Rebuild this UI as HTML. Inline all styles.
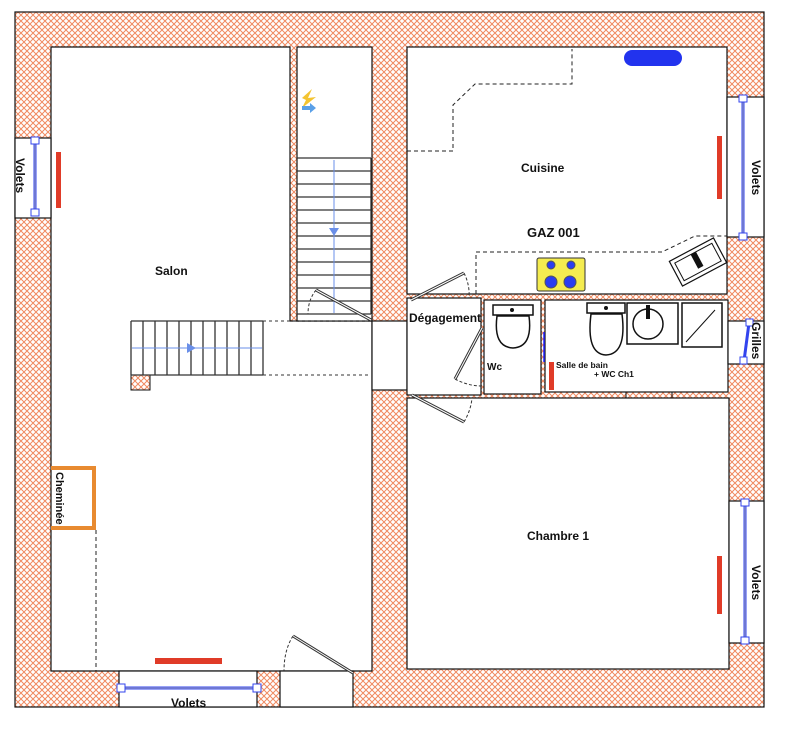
<!DOCTYPE html>
<html><head><meta charset="utf-8"><style>
html,body{margin:0;padding:0;background:#fff;}
svg{display:block;}
text{font-family:"Liberation Sans",sans-serif;font-weight:bold;fill:#111;}
</style></head><body>
<svg width="791" height="736" viewBox="0 0 791 736" xmlns="http://www.w3.org/2000/svg">
<defs>
<pattern id="h" width="6" height="6" patternUnits="userSpaceOnUse">
<rect width="6" height="6" fill="#fff"/>
<path d="M0 0L6 6M6 0L0 6" stroke="#f08a60" stroke-width="1"/>
</pattern>
</defs>
<rect x="15" y="12" width="749" height="695" fill="url(#h)" stroke="#111" stroke-width="1.2"/>
<g fill="#fff" stroke="#111" stroke-width="1.2">
<path d="M51 47H290V321H372V671H51Z"/>
<rect x="297" y="47" width="75" height="274"/>
<rect x="372" y="321" width="35" height="69"/>
<rect x="407" y="47" width="320" height="247"/>
<rect x="407" y="298" width="74" height="97"/>
<rect x="484" y="300" width="57" height="94"/>
<rect x="545" y="300" width="183" height="92"/>
<rect x="407" y="398" width="322" height="271"/>
<rect x="15" y="138" width="36" height="80"/>
<rect x="727" y="97" width="37" height="140"/>
<rect x="728" y="321" width="36" height="43"/>
<rect x="729" y="501" width="35" height="142"/>
<rect x="119" y="671" width="138" height="36"/>
<rect x="280" y="671" width="73" height="36"/>
</g>
<rect x="291" y="310" width="5" height="10" fill="url(#h)"/>
<rect x="131" y="375" width="19" height="15" fill="url(#h)" stroke="#111"/>
<g stroke="#333" stroke-width="1.3">
<path d="M297 158H371M297 171H371M297 184H371M297 197H371M297 210H371M297 223H371M297 236H371M297 249H371M297 262H371M297 275H371M297 288H371M297 301H371M297 314H371"/>
<path d="M371 158V314"/>
<path d="M131 321H263M131 375H263M131 321V375M143 321V375M155 321V375M167 321V375M179 321V375M191 321V375M203 321V375M215 321V375M227 321V375M239 321V375M251 321V375M263 321V375"/>
</g>
<path d="M334 160V313" stroke="#6a8fe8" stroke-width="1"/>
<path d="M329 228H339L334 236Z" fill="#6a8fe8"/>
<path d="M132 348H262" stroke="#6a8fe8" stroke-width="1"/>
<path d="M187 343V353L196 348Z" fill="#6a8fe8"/>
<path d="M263 321H370M263 375H370" stroke="#333" stroke-dasharray="3,3"/>
<path d="M302 98L312 89L308 98L316 97L302 108L306 100Z" fill="#f4c430"/>
<path d="M302 106H310V103L316 108L310 113V110H302Z" fill="#5aa0e8"/>
<path d="M316 290L371 320" stroke="#333" stroke-width="3"/><path d="M316 290L371 320" stroke="#fff" stroke-width="1"/>
<path d="M316 290Q308 300 308 314" fill="none" stroke="#333" stroke-dasharray="3,2"/>
<path d="M293 636L353 673" stroke="#333" stroke-width="3"/><path d="M293 636L353 673" stroke="#fff" stroke-width="1"/>
<path d="M293 636Q284 650 284 671" fill="none" stroke="#333" stroke-dasharray="3,2"/>
<path d="M411 300L464 273" stroke="#333" stroke-width="3"/><path d="M411 300L464 273" stroke="#fff" stroke-width="1"/>
<path d="M464 273Q470 285 469 298" fill="none" stroke="#333" stroke-dasharray="3,2"/>
<path d="M482 328L455 379" stroke="#333" stroke-width="3"/><path d="M482 328L455 379" stroke="#fff" stroke-width="1"/>
<path d="M455 379Q468 386 482 386" fill="none" stroke="#333" stroke-dasharray="3,2"/>
<path d="M412 395L464 422" stroke="#333" stroke-width="3"/><path d="M412 395L464 422" stroke="#fff" stroke-width="1"/>
<path d="M464 422Q471 410 472 398" fill="none" stroke="#333" stroke-dasharray="3,2"/>
<path d="M407 151H453V105L475 84H572V49" fill="none" stroke="#222" stroke-dasharray="4,3"/>
<path d="M476 294V252H662L695 236H727" fill="none" stroke="#222" stroke-dasharray="4,3"/>
<path d="M96 530V671" fill="none" stroke="#222" stroke-dasharray="4,3"/>
<rect x="624" y="50" width="58" height="16" rx="8" fill="#2233ee"/>
<rect x="537" y="258" width="48" height="33" rx="2" fill="#f4ec50" stroke="#333"/>
<circle cx="551" cy="265" r="4" fill="#2a3df0" stroke="#555"/><circle cx="571" cy="265" r="4" fill="#2a3df0" stroke="#555"/>
<circle cx="551" cy="282" r="6" fill="#2a3df0" stroke="#555"/><circle cx="570" cy="282" r="6" fill="#2a3df0" stroke="#555"/>
<g transform="rotate(-28 698 262)">
<rect x="673" y="248" width="50" height="28" fill="#fff" stroke="#111" stroke-width="1.2"/>
<rect x="677" y="252" width="42" height="20" fill="none" stroke="#111"/>
<rect x="695" y="252" width="6" height="16" fill="#111"/>
</g>
<g fill="#fff" stroke="#111" stroke-width="1.5">
<rect x="493" y="305" width="40" height="10"/>
<path d="M497 316Q493 347 513 348Q533 347 529 316Z"/>
<rect x="587" y="303" width="38" height="10"/>
<path d="M591 314Q586 354 606 355Q627 354 622 314Z"/>
<rect x="627" y="303" width="51" height="41"/>
<circle cx="648" cy="324" r="15"/>
<rect x="682" y="303" width="40" height="44"/>
</g>
<circle cx="512" cy="310" r="2" fill="#111"/><circle cx="606" cy="308" r="2" fill="#111"/>
<rect x="646" y="305" width="4" height="14" fill="#111"/>
<path d="M686 342L715 310" stroke="#111"/>
<path d="M544 332V362" stroke="#22f" stroke-width="1.5"/>
<path d="M626 392V398M672 392V398" stroke="#111"/>
<rect x="56" y="152" width="5" height="56" fill="#e03b28"/>
<rect x="717" y="136" width="5" height="63" fill="#e03b28"/>
<rect x="717" y="556" width="5" height="58" fill="#e03b28"/>
<rect x="155" y="658" width="67" height="6" fill="#e03b28"/>
<rect x="549" y="362" width="5" height="28" fill="#e03b28"/>
<path d="M51 468H94V528H51" fill="none" stroke="#e88a30" stroke-width="4"/>
<g stroke="#3344ee" fill="#fff">
<path d="M35 141V212" stroke-width="3"/><path d="M35 141V212" stroke="#aab" stroke-width="1"/>
<rect x="31" y="137" width="8" height="7"/><rect x="31" y="209" width="8" height="7"/>
<path d="M743 99V236" stroke-width="3"/><path d="M743 99V236" stroke="#aab" stroke-width="1"/>
<rect x="739" y="95" width="8" height="7"/><rect x="739" y="233" width="8" height="7"/>
<path d="M745 503V640" stroke-width="3"/><path d="M745 503V640" stroke="#aab" stroke-width="1"/>
<rect x="741" y="499" width="8" height="7"/><rect x="741" y="637" width="8" height="7"/>
<path d="M122 688H256" stroke-width="3"/><path d="M122 688H256" stroke="#aab" stroke-width="1"/>
<rect x="117" y="684" width="8" height="8"/><rect x="253" y="684" width="8" height="8"/>
<path d="M749 323L744 361" stroke-width="3"/>
<rect x="746" y="319" width="7" height="7"/><rect x="740" y="357" width="7" height="7"/>
</g>
<text x="155" y="275" font-size="12">Salon</text>
<text x="521" y="172" font-size="12">Cuisine</text>
<text x="527" y="237" font-size="13">GAZ 001</text>
<text x="409" y="322" font-size="12">Dégagement</text>
<text x="487" y="370" font-size="10">Wc</text>
<text x="556" y="368" font-size="8.5">Salle de bain</text>
<text x="594" y="377" font-size="8.5">+ WC Ch1</text>
<text x="527" y="540" font-size="12">Chambre 1</text>
<text x="171" y="707" font-size="12">Volets</text>
<text font-size="12" transform="translate(16 158) rotate(90)">Volets</text>
<text font-size="12" transform="translate(752 160) rotate(90)">Volets</text>
<text font-size="12" transform="translate(752 565) rotate(90)">Volets</text>
<text font-size="12" transform="translate(752 322) rotate(90)">Grilles</text>
<text font-size="11" transform="translate(56 472) rotate(90)">Cheminée</text>
</svg>
</body></html>
